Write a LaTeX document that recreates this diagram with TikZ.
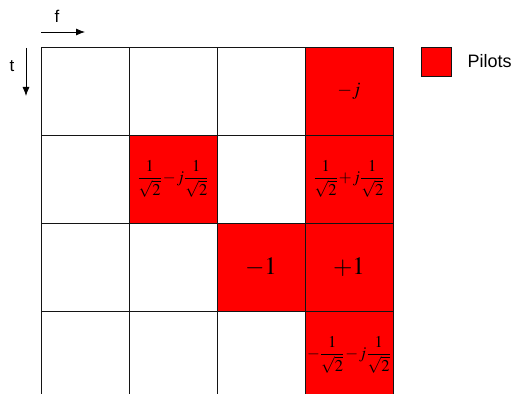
\documentclass[tikz,border=0pt]{standalone}
\usepackage{mathptmx}
\usepackage{fontspec}
\setsansfont{Liberation Sans}
\usetikzlibrary{arrows.meta, positioning}
\definecolor{pilotred}{RGB}{255,0,0}
\definecolor{gridline}{RGB}{20,20,20}

\begin{document}
\begin{tikzpicture}[x=1pt, y=-1pt,
    cell/.style={rectangle, draw=gridline, line width=0.9pt, minimum size=88pt, inner sep=0pt, outer sep=0pt},
    pilot/.style={cell, fill=pilotred},
    small/.style={font=\fontsize{16.5}{19}\selectfont},
    big/.style={font=\fontsize{25}{25}\selectfont},
    axis/.style={-{Latex[length=9pt, width=7pt]}, line width=0.8pt},
    label/.style={font=\sffamily\fontsize{17}{17}\selectfont, inner sep=1pt}
]
\useasboundingbox (0,0) rectangle (518,393);
% row 1
\node[cell] (r1f1) at (85,91) {};
\node[cell, right=0pt of r1f1] (r1f2) {};
\node[cell, right=0pt of r1f2] (r1f3) {};
\node[pilot, right=0pt of r1f3, font=\fontsize{19}{19}\selectfont] (r1f4) {$-j$};
% row 2
\node[cell, below=0pt of r1f1] (r2f1) {};
\node[pilot, right=0pt of r2f1, small] (r2f2) {$\displaystyle\frac{1}{\sqrt{2}}\mkern1mu{-}\mkern1mu j\frac{1}{\sqrt{2}}$};
\node[cell, right=0pt of r2f2] (r2f3) {};
\node[pilot, right=0pt of r2f3, small] (r2f4) {$\displaystyle\frac{1}{\sqrt{2}}\mkern1mu{+}\mkern1mu j\frac{1}{\sqrt{2}}$};
% row 3
\node[cell, below=0pt of r2f1] (r3f1) {};
\node[cell, right=0pt of r3f1] (r3f2) {};
\node[pilot, right=0pt of r3f2, big] (r3f3) {$-1$};
\node[pilot, right=0pt of r3f3, big] (r3f4) {$+1$};
% row 4
\node[cell, below=0pt of r3f1] (r4f1) {};
\node[cell, right=0pt of r4f1] (r4f2) {};
\node[cell, right=0pt of r4f2] (r4f3) {};
\node[pilot, right=0pt of r4f3, small] (r4f4) {$\displaystyle{-}\frac{1}{\sqrt{2}}\mkern1mu{-}\mkern1mu j\frac{1}{\sqrt{2}}$};
% axes
\coordinate (fstart) at (41,32);
\coordinate (fend) at (85,32);
\coordinate (tstart) at (26,48);
\coordinate (tend) at (26,96);
\draw[axis] (fstart) -- (fend);
\draw[axis] (tstart) -- (tend);
\node[label] (flabel) at (57,16) {f};
\node[label] (tlabel) at (12,66) {t};
% legend
\node[rectangle, draw=gridline, line width=0.8pt, fill=pilotred, minimum width=30pt, minimum height=29pt, inner sep=0pt] (legend) at (436,61.5) {};
\node[label, right=15pt of legend, font=\sffamily\fontsize{18}{18}\selectfont] (legendtext) {Pilots};
\end{tikzpicture}
\end{document}
